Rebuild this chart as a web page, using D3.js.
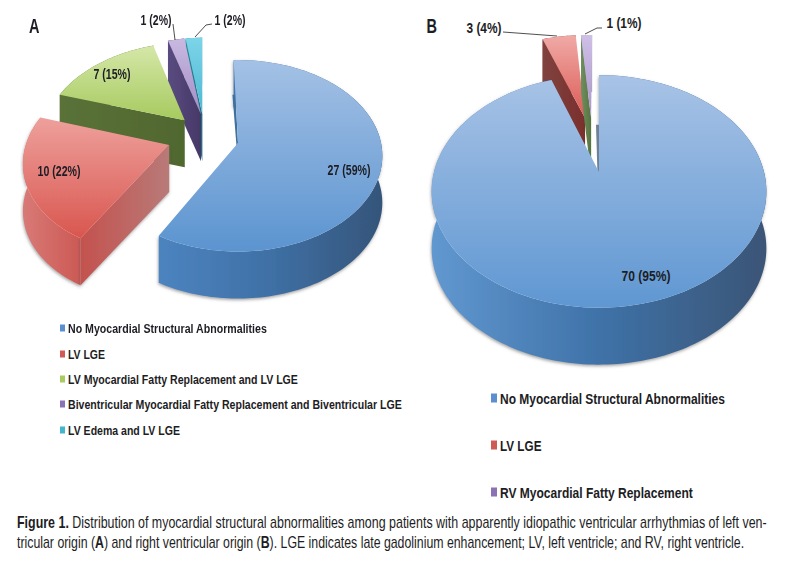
<!DOCTYPE html>
<html><head><meta charset="utf-8">
<script src="https://cdn.jsdelivr.net/npm/d3@7"></script>
<style>
html,body{margin:0;padding:0;background:#fff}
svg{display:block}
text{font-family:"Liberation Sans",Arial,sans-serif;fill:#1d1d24}
</style></head><body>
<svg id="c" width="789" height="563"></svg>
<script>
// ---- data ----
const categoriesA = ["No Myocardial Structural Abnormalities","LV LGE","LV Myocardial Fatty Replacement and LV LGE","Biventricular Myocardial Fatty Replacement and Biventricular LGE","LV Edema and LV LGE"];
const valuesA = [27,10,7,1,1];
const labelsA = ["27 (59%)","10 (22%)","7 (15%)","1 (2%)","1 (2%)"];
const categoriesB = ["No Myocardial Structural Abnormalities","LV LGE","RV Myocardial Fatty Replacement"];
const valuesB = [70,3,1];
const labelsB = ["70 (95%)","3 (4%)","1 (1%)"];
const captionLine1 = [["Figure 1.",1],[" Distribution of myocardial structural abnormalities among patients with apparently idiopathic ventricular arrhythmias of left ven-",0]];
const captionLine2 = [["tricular origin (",0],["A",1],[") and right ventricular origin (",0],["B",1],["). LGE indicates late gadolinium enhancement; LV, left ventricle; and RV, right ventricle.",0]];

// ---- styles ----
const paletteA = [
 {top:["#a4c1e5","#5b94d0"],rim:["#4c84c0","#3f70a5","#35557a"],wall:["#4f86c0","#4f86c0"],key:"#5b8fd0"},
 {top:["#eea09c","#d9564f"],rim:["#d87a76","#c9504b","#bb4a46"],wall:["#c4524e","#b87a78"],key:"#cf5b57"},
 {top:["#d5e7a8","#a6ca5e"],rim:["#5c7638","#53692f","#5a7336"],wall:["#5a7238","#50672f"],key:"#a9cc62"},
 {top:["#c9b9e0","#a48dc6"],rim:["#4e3f72","#4e3f72","#4e3f72"],wall:["#5a4b80","#463867"],key:"#8a72b4"},
 {top:["#7cd4e8","#4cb8d2"],rim:["#3b9db5","#3b9db5","#3b9db5"],wall:["#2c8798","#1f6e80"],key:"#45b4cd"}
];
const paletteB = [
 {top:["#a8c3e6","#5f97d2"],rim:["#6198d0","#3f72a8","#3a5576"],wall:["#4f86c0","#4f86c0"],key:"#5b8fd0"},
 {top:["#f0aaa6","#dc5a55"],rim:["#8a3d3a","#8a3d3a","#8a3d3a"],wall:["#80433f","#7a2f2c"],key:"#cf5b57"},
 {top:["#cfc0e6","#a994cc"],rim:["#a9a9b2","#a9a9b2","#a9a9b2"],wall:["#6f8f60","#56743f"],key:"#8a72b4"}
];

// ---- layout ----
const pieA = {cx:238,cy:143,R:143,Rk:94,t:.134,depth:47,rotation:-2,shadowed:[0,1],
  offsets:[[0,0],[-.48,.02],[-.385,-.25],[-.27,-.32],[-.26,-.32]],
  order:[4,3,2,1,0],sliver:{f:.55,dx:-3,color:"#3f6f9e"}};
const pieB = {cx:599,cy:172,R:165,Rk:113,t:.167,depth:57,rotation:0,shadowed:[0],
  offsets:[[0,0],[-.092,-.52],[-.052,-.52]],
  order:[1,2,0],sliver:{f:.45,dx:-3,color:"#6f8196"}};

const svg = d3.select("#c");
const defs = svg.append("defs");
defs.append("filter").attr("id","sh").attr("x","-5%").attr("y","-5%").attr("width","110%").attr("height","115%")
  .append("feDropShadow").attr("dx",-.5).attr("dy",1.5).attr("stdDeviation",1.4).attr("flood-color","#555").attr("flood-opacity",.55);
defs.append("filter").attr("id","soft").append("feGaussianBlur").attr("stdDeviation",.35);
let gid = 0;
function grad(stops,x1,y1,x2,y2){
  const id="g"+(gid++);
  const g=defs.append("linearGradient").attr("id",id).attr("gradientUnits","userSpaceOnUse")
    .attr("x1",x1).attr("y1",y1).attr("x2",x2).attr("y2",y2);
  stops.forEach((c,i)=>g.append("stop").attr("offset",i/(stops.length-1)).attr("stop-color",c));
  return `url(#${id})`;
}

function drawPie(values,palette,cfg){
  const g = svg.append("g").attr("filter","url(#soft)");
  const rot = cfg.rotation*Math.PI/180;
  const arcs = d3.pie().sort(null).value(d=>d).startAngle(rot).endAngle(rot+2*Math.PI)(values);
  const sx = d3.scaleLinear().domain([-1,1]).range([-cfg.R,cfg.R]);
  const sy = d3.scaleLinear().domain([-1,1]).range([-cfg.Rk,cfg.Rk]);
  const project = (u,v)=>{const p=1/(1-cfg.t*v);return [cfg.cx+sx(u)*p,cfg.cy+sy(v)*p];};
  const line = d3.line();
  const drop = p=>[p[0],p[1]+cfg.depth];
  cfg.order.forEach(i=>{
    const a=arcs[i],[du,dv]=cfg.offsets[i],pal=palette[i];
    const n=Math.max(6,Math.ceil((a.endAngle-a.startAngle)*40));
    const rim=d3.range(n+1).map(k=>{
      const th=a.startAngle+(a.endAngle-a.startAngle)*k/n;
      return project(du+Math.sin(th),dv-Math.cos(th));
    });
    const apex=project(du,dv);
    const xs=rim.map(p=>p[0]).concat(apex[0]), ys=rim.map(p=>p[1]).concat(apex[1]);
    const x0=d3.min(xs),x1=d3.max(xs),y0=d3.min(ys),y1=d3.max(ys);
    const sl=g.append("g");
    const shadow=cfg.shadowed.includes(i)?"url(#sh)":null;
    sl.append("path").attr("d",line(rim.concat(rim.map(drop).reverse()))+"Z")
      .attr("fill",grad(pal.rim,x0,0,x1,0)).attr("filter",shadow);
    if(i!==0){
      const c=rim[0];
      sl.append("path").attr("d",line([c,apex,drop(apex),drop(c)])+"Z")
        .attr("fill",grad(pal.wall,c[0],0,apex[0],0)).attr("filter",shadow);
    } else {
      const s=cfg.sliver,q=project(Math.sin(rot)*s.f,-s.f);
      sl.append("path").attr("d",line([[q[0]+s.dx,q[1]],q,apex,[apex[0]-1.5,apex[1]+3]])+"Z").attr("fill",s.color);
    }
    sl.append("path").attr("d",line([apex].concat(rim))+"Z")
      .attr("fill",grad(pal.top,0,y0,0,y1));
  });
}
drawPie(valuesA,paletteA,pieA);
drawPie(valuesB,paletteB,pieB);

// place a text at (x,y), squeezed horizontally to the width it has in the figure
function fit(sel,x,y,width){
  const w=sel.node().getComputedTextLength();
  sel.attr("transform",`translate(${x},${y}) scale(${width/w},1)`);
  return sel;
}

// ---- value labels, panel letters, leaders ----
[[labelsA[0],349,174.5,43],[labelsA[1],59,175.5,43],[labelsA[2],112,78.5,37],[labelsA[3],156,25,31],[labelsA[4],230,25,31],
 [labelsB[0],646,280.5,49],[labelsB[1],484,32.5,35],[labelsB[2],624,27.5,35]].forEach(([t,x,y,w])=>{
  const s=svg.append("text").attr("text-anchor","middle").attr("font-size",14.5).attr("font-weight",700).text(t);
  fit(s,x,y,w);
 });
fit(svg.append("text").attr("font-size",21).attr("font-weight",700).text("A"),29,33,10.5);
fit(svg.append("text").attr("font-size",21).attr("font-weight",700).text("B"),426.5,33,10.5);
const leader=d3.line();
[[[173,24],[175,40]],[[212,24],[206,25],[195,37]],[[503,32],[557,36]],[[602,28],[597,28],[585,34]]].forEach(p=>
  svg.append("path").attr("d",leader(p)).attr("fill","none").attr("stroke","#222").attr("stroke-width",.8));

// ---- legends ----
function legend(cats,pal,rows,widths,mx,mw,mh,tx,fs){
  cats.forEach((c,i)=>{
    svg.append("rect").attr("x",mx).attr("y",rows[i]-mh/2).attr("width",mw).attr("height",mh).attr("fill",pal[i].key);
    const s=svg.append("text").attr("font-size",fs).attr("font-weight",700).text(c);
    fit(s,tx,rows[i]+fs*.36,widths[i]);
  });
}
legend(categoriesA,paletteA,[328,354,379,404,430],[199,37,230,334,112],60,5,7,68,13);
legend(categoriesB,paletteB,[398,445,492],[225,41.5,193],491,6,9,500,15.5);

// ---- caption ----
function caption(parts,y,width){
  const t=svg.append("text").attr("font-size",16).style("white-space","pre");
  parts.forEach(([s,b])=>t.append("tspan").attr("font-weight",b?700:400).text(s));
  fit(t,17,y,width);
}
caption(captionLine1,528,750);
caption(captionLine2,548,728);
</script>
</body></html>
